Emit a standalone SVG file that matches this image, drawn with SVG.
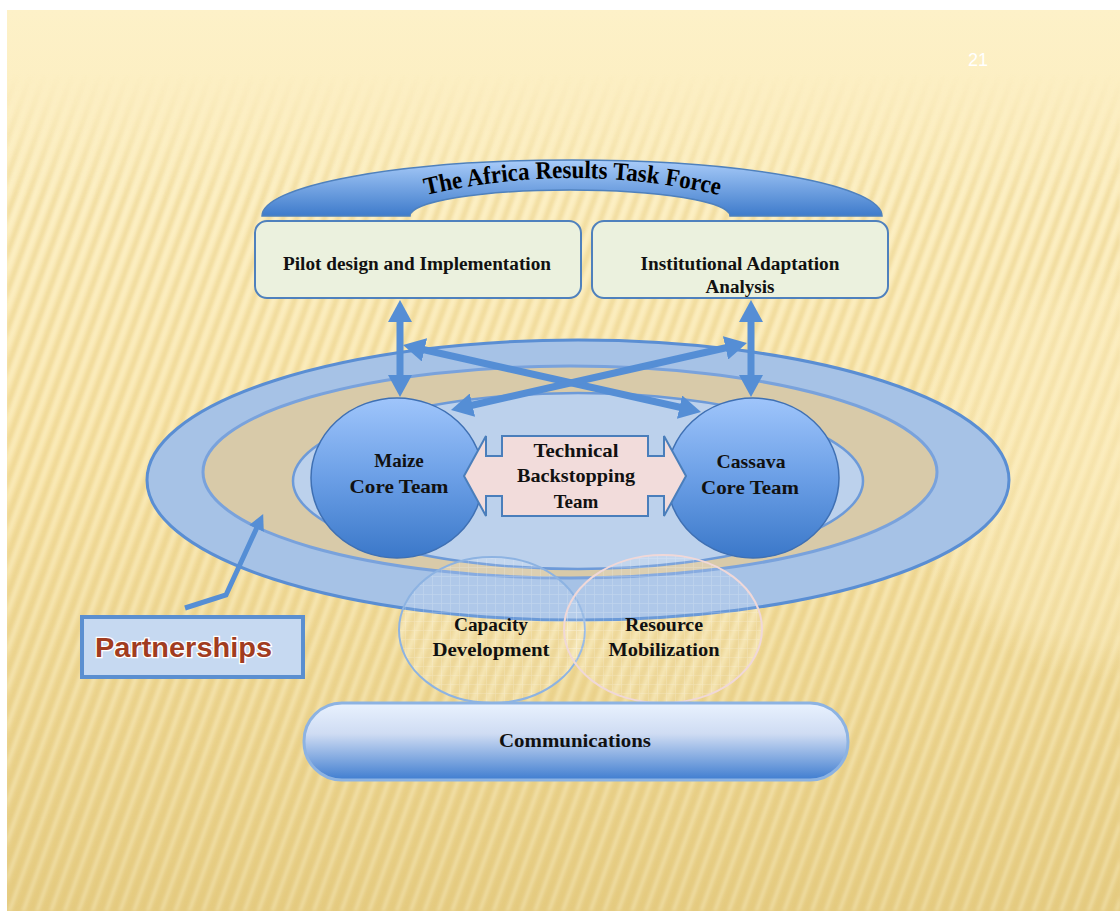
<svg xmlns="http://www.w3.org/2000/svg" width="1120" height="911" viewBox="0 0 1120 911">
<defs>
<style>
.lbl{font-family:"Liberation Serif","Times New Roman",serif;font-weight:bold;fill:#111;text-anchor:middle}
.box{fill:#ebf1de;stroke:#4f81bd;stroke-width:2}
.arr{stroke:#558ed5;stroke-width:7;fill:none}
</style>
<linearGradient id="bg" x1="0" y1="0" x2="0" y2="1">
<stop offset="0" stop-color="#fdf1c8"/>
<stop offset="0.5" stop-color="#f8e4a9"/>
<stop offset="1" stop-color="#e6cd84"/>
</linearGradient>
<linearGradient id="stripeFade" x1="0" y1="0" x2="0" y2="1">
<stop offset="0" stop-color="#000"/>
<stop offset="0.08" stop-color="#000"/>
<stop offset="0.22" stop-color="#fff"/>
<stop offset="1" stop-color="#fff"/>
</linearGradient>
<mask id="smask"><rect x="0" y="0" width="1120" height="911" fill="url(#stripeFade)"/></mask>
<filter id="soft" x="0" y="0" width="1" height="1"><feGaussianBlur stdDeviation="1.6"/></filter>
<pattern id="stripes" width="13" height="13" patternUnits="userSpaceOnUse" patternTransform="rotate(20)">
<rect x="0" y="0" width="5" height="13" fill="#e3c576" opacity="0.35"/>
<rect x="7" y="0" width="3" height="13" fill="#fff8dc" opacity="0.35"/>
</pattern>
<radialGradient id="glow" cx="0.5" cy="0.5" r="0.5">
<stop offset="0" stop-color="#fdf0c6" stop-opacity="0.45"/>
<stop offset="0.8" stop-color="#fdf0c6" stop-opacity="0.3"/>
<stop offset="1" stop-color="#fdf0c6" stop-opacity="0"/>
</radialGradient>
<linearGradient id="archG" x1="0" y1="0" x2="0" y2="1">
<stop offset="0" stop-color="#a9ccf9"/>
<stop offset="1" stop-color="#3e7bcb"/>
</linearGradient>
<linearGradient id="coreG" x1="0" y1="0" x2="0" y2="1">
<stop offset="0" stop-color="#9fc5fb"/>
<stop offset="0.5" stop-color="#6b9fe6"/>
<stop offset="1" stop-color="#3b78c9"/>
</linearGradient>
<linearGradient id="commG" x1="0" y1="0" x2="0" y2="1">
<stop offset="0" stop-color="#e9f2fe"/>
<stop offset="0.4" stop-color="#cfdcf3"/>
<stop offset="1" stop-color="#3f7dd0"/>
</linearGradient>
<pattern id="grid" width="9" height="9" patternUnits="userSpaceOnUse">
<rect width="9" height="9" fill="#ffffff" opacity="0.1"/>
<path d="M0,0.5 H9 M0.5,0 V9" stroke="#ffffff" stroke-width="0.7" opacity="0.22"/>
</pattern>
<marker id="ah" viewBox="0 0 22 24" markerWidth="22" markerHeight="24" refX="6" refY="12" orient="auto-start-reverse" markerUnits="userSpaceOnUse">
<path d="M0,0 L22,12 L0,24 Z" fill="#558ed5"/>
</marker>
<marker id="ahs" viewBox="0 0 16 16" markerWidth="16" markerHeight="16" refX="6" refY="8" orient="auto" markerUnits="userSpaceOnUse">
<path d="M0,0 L16,8 L0,16 Z" fill="#558ed5"/>
</marker>
</defs>

<!-- background -->
<rect x="0" y="0" width="1120" height="911" fill="#ffffff"/>
<rect x="7" y="10" width="1113" height="901" fill="url(#bg)"/>
<g mask="url(#smask)"><rect x="7" y="10" width="1113" height="901" fill="url(#stripes)" filter="url(#soft)"/></g>
<ellipse cx="1110" cy="470" rx="210" ry="210" fill="url(#glow)"/>
<text x="968" y="66" font-family="Liberation Sans, Arial, sans-serif" font-size="18" fill="#ffffff">21</text>

<!-- arch -->
<g id="task-force">
<path d="M262,216 A310,56 0 0 1 882,216 L730,216 A160,26 0 0 0 410,216 Z" fill="url(#archG)" stroke="#4f81bd" stroke-width="1.5"/>
<path id="titlePath" d="M418,197 Q572,159 727,197" fill="none"/>
<text font-family="Liberation Serif, serif" font-size="25" font-weight="bold" fill="#000"><textPath href="#titlePath" startOffset="50%" text-anchor="middle" textLength="296" lengthAdjust="spacingAndGlyphs">The Africa Results Task Force</textPath></text>
</g>

<g id="pilot">
<rect class="box" x="255" y="221" width="326" height="77" rx="12"/>
<text class="lbl" x="417" y="270" font-size="18" textLength="268" lengthAdjust="spacingAndGlyphs">Pilot design and Implementation</text>
</g>
<g id="institutional">
<rect class="box" x="592" y="221" width="296" height="77" rx="12"/>
<text class="lbl" x="740" y="270" font-size="18" textLength="199" lengthAdjust="spacingAndGlyphs">Institutional Adaptation</text>
<text class="lbl" x="740" y="293" font-size="18" textLength="69" lengthAdjust="spacingAndGlyphs">Analysis</text>
</g>

<!-- partnerships rings -->
<g id="partnership-rings">
<ellipse cx="578" cy="480" rx="431" ry="140" fill="#a6c2e6" stroke="#5a8ed3" stroke-width="3"/>
<ellipse cx="570" cy="472" rx="367" ry="106" fill="#d8caa9" stroke="#79a2dc" stroke-width="3"/>
<ellipse cx="578" cy="481" rx="285" ry="88" fill="#bcd1ec" stroke="#6d9ad8" stroke-width="2.5"/>
</g>

<g id="maize">
<ellipse cx="397" cy="478" rx="86" ry="80" fill="url(#coreG)" stroke="#3f70b3" stroke-width="1.5"/>
<text class="lbl" x="399" y="467" font-size="19">Maize</text>
<text class="lbl" x="399" y="493" font-size="19" textLength="99" lengthAdjust="spacingAndGlyphs">Core Team</text>
</g>
<g id="cassava">
<ellipse cx="753" cy="478" rx="86" ry="80" fill="url(#coreG)" stroke="#3f70b3" stroke-width="1.5"/>
<text class="lbl" x="751" y="468" font-size="19" textLength="69" lengthAdjust="spacingAndGlyphs">Cassava</text>
<text class="lbl" x="750" y="494" font-size="19" textLength="98" lengthAdjust="spacingAndGlyphs">Core Team</text>
</g>

<g id="technical">
<polygon points="464,476 486,436 486,456 502,456 502,436 648,436 648,456 664,456 664,436 686,476 664,516 664,496 648,496 648,516 502,516 502,496 486,496 486,516" fill="#f2dcdb" stroke="#4a7ebb" stroke-width="2"/>
<text class="lbl" x="576" y="457" font-size="19" textLength="85" lengthAdjust="spacingAndGlyphs">Technical</text>
<text class="lbl" x="576" y="482" font-size="19" textLength="118" lengthAdjust="spacingAndGlyphs">Backstopping</text>
<text class="lbl" x="576" y="508" font-size="19">Team</text>
</g>

<!-- connectors -->
<g id="connectors">
<line class="arr" x1="400" y1="316" x2="400" y2="381" marker-start="url(#ah)" marker-end="url(#ah)"/>
<line class="arr" x1="751" y1="316" x2="751" y2="381" marker-start="url(#ah)" marker-end="url(#ah)"/>
<line class="arr" x1="418.6" y1="348.5" x2="685.4" y2="408.5" marker-start="url(#ah)" marker-end="url(#ah)"/>
<line class="arr" x1="731.4" y1="346.5" x2="466.6" y2="406.5" marker-start="url(#ah)" marker-end="url(#ah)"/>
<polyline points="185,608 226,595 259,523" fill="none" stroke="#558ed5" stroke-width="5" marker-end="url(#ahs)"/>
</g>

<g id="capacity">
<ellipse cx="492" cy="630" rx="93" ry="73" fill="url(#grid)" stroke="#8db3e2" stroke-width="2"/>
<text class="lbl" x="491" y="631" font-size="18" textLength="74" lengthAdjust="spacingAndGlyphs">Capacity</text>
<text class="lbl" x="491" y="656" font-size="18" textLength="117" lengthAdjust="spacingAndGlyphs">Development</text>
</g>
<g id="resource">
<ellipse cx="663" cy="629" rx="99" ry="74" fill="url(#grid)" stroke="#f0d8d8" stroke-width="2"/>
<text class="lbl" x="664" y="631" font-size="18" textLength="78" lengthAdjust="spacingAndGlyphs">Resource</text>
<text class="lbl" x="664" y="656" font-size="18" textLength="111" lengthAdjust="spacingAndGlyphs">Mobilization</text>
</g>

<g id="communications">
<rect x="304" y="703" width="544" height="77" rx="38" fill="url(#commG)" stroke="#8db3e2" stroke-width="3"/>
<text class="lbl" x="575" y="747" font-size="19" textLength="152" lengthAdjust="spacingAndGlyphs">Communications</text>
</g>

<g id="partnerships">
<rect x="82" y="617" width="221" height="60" fill="#c6d9f1" stroke="#5b8fd0" stroke-width="4"/>
<text x="95" y="657" font-family="Liberation Sans, Arial, sans-serif" font-weight="bold" font-size="27" fill="#a13c1f" stroke="#ffffff" stroke-width="2.5" paint-order="stroke" textLength="177" lengthAdjust="spacingAndGlyphs">Partnerships</text>
</g>
</svg>
